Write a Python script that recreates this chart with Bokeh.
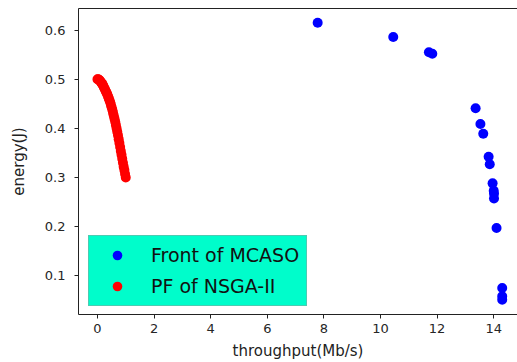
from bokeh.plotting import figure
from bokeh.models import Legend, LegendItem, FixedTicker, Range1d, LinearAxis
from bokeh.embed import file_html
from bokeh.resources import INLINE

# MCASO front (throughput Mb/s, energy J)
mcaso_x = [7.78, 10.45, 11.71, 11.83, 13.36, 13.53, 13.63, 13.82, 13.86, 13.96,
           14.00, 14.01, 14.01, 14.10, 14.30, 14.30, 14.30]
mcaso_y = [0.615, 0.586, 0.555, 0.552, 0.441, 0.409, 0.389, 0.342, 0.327, 0.288,
           0.273, 0.267, 0.257, 0.197, 0.075, 0.058, 0.051]

# NSGA-II Pareto front (dense band of solutions)
nsga_x = [0.000, 0.025, 0.050, 0.075, 0.100, 0.125, 0.150, 0.175, 0.200, 0.225,
          0.250, 0.275, 0.300, 0.325, 0.350, 0.375, 0.400, 0.425, 0.450, 0.475,
          0.500, 0.525, 0.550, 0.575, 0.600, 0.625, 0.650, 0.675, 0.700, 0.725,
          0.750, 0.775, 0.800, 0.825, 0.850, 0.875, 0.900, 0.925, 0.950, 0.975, 1.000]
nsga_y = [0.500, 0.500, 0.499, 0.498, 0.496, 0.494, 0.492, 0.490, 0.487, 0.484,
          0.481, 0.478, 0.475, 0.472, 0.469, 0.465, 0.461, 0.457, 0.453, 0.448,
          0.443, 0.438, 0.432, 0.426, 0.420, 0.414, 0.407, 0.400, 0.393, 0.386,
          0.378, 0.370, 0.362, 0.354, 0.346, 0.338, 0.330, 0.322, 0.315, 0.307, 0.300]

x_ticks = [0, 2, 4, 6, 8, 10, 12, 14]
y_ticks = [0.1, 0.2, 0.3, 0.4, 0.5, 0.6]

p = figure(width=517, height=362, output_backend="svg", toolbar_location=None,
           x_range=Range1d(-0.67, 14.84), y_range=Range1d(0.021, 0.644),
           min_border_left=78, min_border_right=0, min_border_top=8, min_border_bottom=46)

p.xgrid.visible = False
p.ygrid.visible = False
p.outline_line_color = None

r_blue = p.scatter(mcaso_x, mcaso_y, size=10, fill_color="#0000ff", line_color=None)
r_red = p.scatter(nsga_x, nsga_y, size=10, fill_color="#ff0000", line_color=None)

for ax in (p.xaxis[0], p.yaxis[0]):
    ax.axis_line_color = "#222222"
    ax.major_tick_line_color = "#222222"
    ax.major_tick_in = 0
    ax.major_tick_out = 4
    ax.minor_tick_in = 0
    ax.minor_tick_out = 0
    ax.major_label_text_font = "DejaVu Sans"
    ax.major_label_text_font_size = "13px"
    ax.major_label_text_color = "#262626"
    ax.axis_label_text_font = "DejaVu Sans"
    ax.axis_label_text_font_size = "15px"
    ax.axis_label_text_font_style = "normal"
    ax.axis_label_text_color = "#222222"

p.xaxis[0].ticker = FixedTicker(ticks=x_ticks)
p.yaxis[0].ticker = FixedTicker(ticks=y_ticks)
p.xaxis[0].axis_label = "throughput(Mb/s)"
p.yaxis[0].axis_label = "energy(J)"
p.xaxis[0].major_label_standoff = 5
p.yaxis[0].major_label_standoff = 9
p.xaxis[0].axis_label_standoff = 6
p.yaxis[0].axis_label_standoff = 14

# top frame line (the right edge of the original is cut off)
top = LinearAxis(ticker=FixedTicker(ticks=[]), major_label_text_font_size="0px",
                 axis_line_color="#222222", major_tick_line_color=None,
                 minor_tick_line_color=None)
p.add_layout(top, "above")

legend = Legend(items=[LegendItem(label="Front of MCASO", renderers=[r_blue]),
                       LegendItem(label="PF of NSGA-II", renderers=[r_red])],
                location=(10, 8))
legend.background_fill_color = "#00fdcb"
legend.background_fill_alpha = 1
legend.border_line_color = "#9a9a9a"
legend.border_line_width = 1
legend.label_text_font = "DejaVu Sans"
legend.label_text_font_size = "19px"
legend.label_text_color = "#111111"
legend.glyph_width = 42
legend.glyph_height = 24
legend.label_height = 24
legend.label_standoff = 13
legend.spacing = 7
legend.padding = 7
legend.margin = 0
p.add_layout(legend, "center")

open("out.html", "w").write(file_html(p, INLINE))
